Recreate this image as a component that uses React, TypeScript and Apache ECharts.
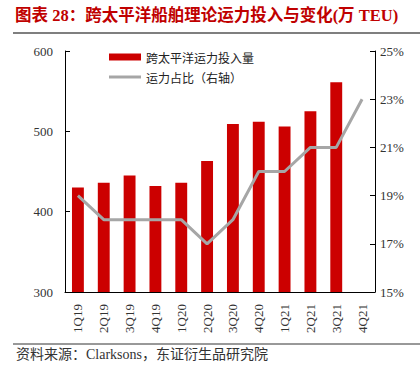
import React, { useEffect, useRef } from "react";
import * as echarts from "echarts";

const categories = ["1Q19", "2Q19", "3Q19", "4Q19", "1Q20", "2Q20", "3Q20", "4Q20", "1Q21", "2Q21", "3Q21", "4Q21"];
const capacity = [430, 436, 445, 432, 436, 463, 509, 512, 506, 525, 561, null];
const share = [19, 18, 18, 18, 18, 17, 18, 20, 20, 21, 21, 23];
const leftTicks = [300, 400, 500, 600];
const rightTicks = [15, 17, 19, 21, 23, 25];

const FONT = "'Liberation Serif', 'DejaVu Serif', 'Noto Sans CJK SC', serif";
const BAR_NAME = "跨太平洋运力投入量";
const LINE_NAME = "运力占比（右轴）";

export default function App() {
  const ref = useRef<HTMLDivElement>(null);
  useEffect(() => {
    if (!ref.current) return;
    const chart = echarts.init(ref.current, null, { renderer: "svg" });
    const legendText = { fontSize: 12, color: "#222", fontFamily: "'Noto Sans CJK SC', serif" };
    chart.setOption({
      animation: false,
      textStyle: { fontFamily: FONT },
      grid: { left: 65, right: 45, top: 51, bottom: 87 },
      legend: [
        {
          left: 104,
          top: 46,
          itemWidth: 32,
          itemHeight: 7,
          itemGap: 6,
          textStyle: legendText,
          data: [{ name: BAR_NAME, icon: "rect" }],
        },
        {
          left: 104,
          top: 66,
          itemWidth: 32,
          itemHeight: 3,
          textStyle: legendText,
          data: [{ name: LINE_NAME, icon: "rect", itemStyle: { color: "#a6a6a6" } }],
        },
      ],
      xAxis: {
        type: "category",
        data: categories,
        axisLine: { lineStyle: { color: "#000", width: 1 } },
        axisTick: { inside: true, length: 5, lineStyle: { color: "#000" } },
        axisLabel: { rotate: 90, color: "#333", fontSize: 13, margin: 12, fontFamily: FONT },
      },
      yAxis: [
        {
          type: "value",
          min: leftTicks[0],
          max: leftTicks[leftTicks.length - 1],
          interval: 100,
          axisLine: { show: true, lineStyle: { color: "#000" } },
          axisTick: { show: true, inside: true, length: 5, lineStyle: { color: "#000" } },
          splitLine: { show: false },
          axisLabel: { color: "#333", fontSize: 13, margin: 12, fontFamily: FONT },
        },
        {
          type: "value",
          min: rightTicks[0],
          max: rightTicks[rightTicks.length - 1],
          interval: 2,
          position: "right",
          axisLine: { show: true, lineStyle: { color: "#000" } },
          axisTick: { show: true, inside: true, length: 5, lineStyle: { color: "#000" } },
          splitLine: { show: false },
          axisLabel: { color: "#333", fontSize: 13, margin: 5, formatter: "{value}%", fontFamily: FONT },
        },
      ],
      series: [
        {
          name: BAR_NAME,
          type: "bar",
          data: capacity,
          barWidth: "46%",
          itemStyle: { color: "#cc0000" },
        },
        {
          name: LINE_NAME,
          type: "line",
          yAxisIndex: 1,
          data: share,
          symbol: "none",
          lineStyle: { color: "#a6a6a6", width: 3 },
          itemStyle: { color: "#a6a6a6" },
        },
      ],
      graphic: [
        {
          type: "text",
          left: 15,
          top: 7,
          style: {
            text: "图表 28：跨太平洋船舶理论运力投入与变化(万 TEU)",
            fill: "#c00000",
            font: "bold 16.5px 'Liberation Serif', 'Noto Sans CJK SC', serif",
          },
        },
        {
          type: "line",
          shape: { x1: 13, y1: 33, x2: 420, y2: 33 },
          style: { stroke: "#555", lineWidth: 1.5 },
        },
        {
          type: "line",
          shape: { x1: 13, y1: 344, x2: 420, y2: 344 },
          style: { stroke: "#333", lineWidth: 1 },
        },
        {
          type: "text",
          left: 16,
          top: 347,
          style: {
            text: "资料来源：Clarksons，东证衍生品研究院",
            fill: "#333",
            font: "14px 'Liberation Serif', 'Noto Sans CJK SC', serif",
          },
        },
      ],
    });
    return () => chart.dispose();
  }, []);
  return <div ref={ref} style={{ width: 420, height: 379, position: "absolute", left: 0, top: 0 }} />;
}
